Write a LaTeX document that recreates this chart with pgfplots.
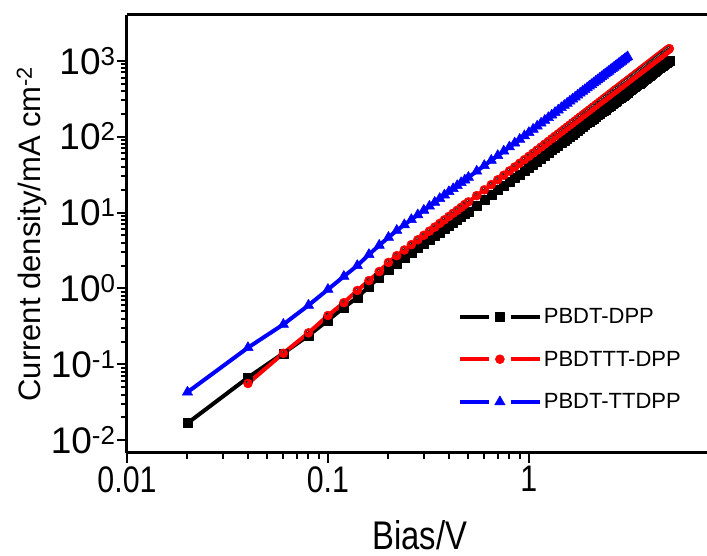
\documentclass[border=0pt]{standalone}
\usepackage{fontspec}
\setmainfont{Liberation Sans}
\usepackage{graphicx}
\usepackage{pgfplots}
\usepackage{pgfplotstable}
\pgfplotsset{compat=1.18}

% narrow the tick/axis label text a little, like the original export
\newcommand\sq[1]{\scalebox{0.82}[1]{#1}}

\pgfplotstableread{
V J
0.02 0.0168
0.04 0.067
0.06 0.14
0.08 0.24
0.10 0.38
0.12 0.56
0.14 0.76
0.16 1.06
0.18 1.40
0.20 1.78
0.22 2.13
0.24 2.52
0.26 2.94
0.28 3.39
0.30 3.86
0.32 4.37
0.34 4.91
0.36 5.48
0.38 6.08
0.40 6.71
0.42 7.37
0.44 8.06
0.46 8.78
0.48 9.53
0.50 10.3
0.55 12.4
0.60 14.6
0.65 17.1
0.70 19.7
0.75 22.4
0.80 25.4
0.85 28.5
0.90 31.8
0.95 35.3
1.00 39.0
1.05 43.0
1.10 47.3
1.15 51.7
1.20 56.4
1.25 61.2
1.30 66.2
1.35 71.5
1.40 76.9
1.45 82.6
1.50 88.5
1.55 94.5
1.60 100.8
1.65 107.3
1.70 113.9
1.75 120.8
1.80 127.9
1.85 135.1
1.90 142.6
1.95 150.3
2.00 158.1
2.05 166.3
2.10 174.5
2.15 183.1
2.20 191.7
2.25 200.7
2.30 209.7
2.35 219.1
2.40 228.6
2.45 238.3
2.50 248.2
2.55 258.4
2.60 268.8
2.65 279.3
2.70 290.0
2.75 301.0
2.80 312.1
2.85 323.5
2.90 335.0
2.95 346.8
3.00 358.6
3.05 371.0
3.10 383.3
3.15 396.0
3.20 408.6
3.25 421.7
3.30 434.9
3.35 448.4
3.40 461.9
3.45 475.8
3.50 489.8
3.55 504.1
3.60 518.4
3.65 533.2
3.70 548.0
3.75 563.1
3.80 578.3
3.85 593.8
3.90 609.5
3.95 625.4
4.00 641.5
4.05 657.8
4.10 674.4
4.15 691.0
4.20 707.8
4.25 725.2
4.30 742.5
4.35 760.0
4.40 778.0
4.45 795.7
4.50 813.9
4.55 832.2
4.60 851.1
4.65 869.6
4.70 888.5
4.75 907.8
4.80 926.9
4.85 946.8
4.90 966.5
4.95 986.8
5.00 1007
}\dpp

\pgfplotstableread{
V J
0.04 0.056
0.06 0.14
0.08 0.26
0.10 0.44
0.12 0.65
0.14 0.94
0.16 1.27
0.18 1.67
0.20 2.2
0.22 2.7
0.24 3.21
0.26 3.77
0.28 4.37
0.30 5.01
0.32 5.69
0.34 6.43
0.36 7.20
0.38 8.02
0.40 8.88
0.42 9.79
0.44 10.7
0.46 11.7
0.48 12.8
0.50 13.8
0.55 16.7
0.60 19.9
0.65 23.3
0.70 27.0
0.75 31.0
0.80 35.3
0.85 39.8
0.90 44.6
0.95 49.7
1.00 55.0
1.05 60.7
1.10 66.7
1.15 73.0
1.20 79.6
1.25 86.5
1.30 93.7
1.35 101.2
1.40 108.9
1.45 116.9
1.50 125.3
1.55 133.9
1.60 142.8
1.65 152.0
1.70 161.5
1.75 171.3
1.80 181.4
1.85 191.8
1.90 202.5
1.95 213.4
2.00 224.6
2.05 236.2
2.10 248.0
2.15 260.2
2.20 272.6
2.25 285.3
2.30 298.4
2.35 311.6
2.40 325.2
2.45 339.1
2.50 353.3
2.55 367.8
2.60 382.7
2.65 397.7
2.70 413.2
2.75 428.8
2.80 444.8
2.85 461.0
2.90 477.7
2.95 494.4
3.00 511.6
3.05 529.0
3.10 546.9
3.15 564.9
3.20 583.2
3.25 601.8
3.30 620.9
3.35 640.0
3.40 659.6
3.45 679.3
3.50 699.6
3.55 720.0
3.60 740.7
3.65 761.9
3.70 782.9
3.75 804.7
3.80 826.6
3.85 848.8
3.90 871.4
3.95 894.1
4.00 917.5
4.05 940.8
4.10 964.7
4.15 988.5
4.20 1013
4.25 1037
4.30 1063
4.35 1088
4.40 1114
4.45 1139
4.50 1165
4.55 1192
4.60 1219
4.65 1245
4.70 1273
4.75 1300
4.80 1328
4.85 1357
4.90 1385
4.95 1414
5.00 1443
}\tttdpp

\pgfplotstableread{
V J
0.02 0.043
0.04 0.166
0.06 0.336
0.08 0.60
0.10 0.97
0.12 1.44
0.14 2.0
0.16 2.8
0.18 3.7
0.20 4.7
0.22 5.8
0.24 6.89
0.26 8.06
0.28 9.32
0.30 10.7
0.32 12.1
0.34 13.6
0.36 15.3
0.38 17.0
0.40 18.8
0.42 20.6
0.44 22.6
0.46 24.7
0.48 26.8
0.50 29.0
0.55 35.0
0.60 41.5
0.65 48.6
0.70 56.2
0.75 64.3
0.80 73.0
0.85 82.2
0.90 91.9
0.95 102.2
1.00 113.0
1.05 124.8
1.10 137.1
1.15 150.1
1.20 163.7
1.25 177.8
1.30 192.5
1.35 207.8
1.40 223.7
1.45 240.3
1.50 257.4
1.55 275.1
1.60 293.4
1.65 312.4
1.70 331.7
1.75 352.0
1.80 372.7
1.85 394.0
1.90 415.9
1.95 438.3
2.00 461.5
2.05 485.2
2.10 509.6
2.15 534.6
2.20 560.1
2.25 586.2
2.30 613.1
2.35 640.2
2.40 668.4
2.45 696.7
2.50 725.6
2.55 755.7
2.60 786.5
2.65 817.1
2.70 849.0
2.75 880.9
2.80 914.1
2.85 947.2
2.90 981.3
2.95 1016
3.00 1051
3.05 1087
3.10 1123
}\ttdpp

\begin{document}
\begin{tikzpicture}
\begin{axis}[
  xmode=log, ymode=log,
  scale only axis, width=580pt, height=438pt,
  xmin=0.01, xmax=7.7, ymin=0.0068, ymax=4000,
  axis x line*=box, axis y line*=left,
  axis line style={line width=3pt,black},
  xtick pos=left, ytick pos=left,
  tick align=outside,
  major tick length=10pt, minor tick length=6pt,
  every tick/.style={line width=2pt,black},
  xtick={0.01,0.1,1}, xticklabels={\sq{0.01},\sq{0.1},\sq{1}},
  ytick={0.01,0.1,1,10,100,1000},
  yticklabels={10\textsuperscript{-2},10\textsuperscript{-1},10\textsuperscript{0},
    10\textsuperscript{1},10\textsuperscript{2},10\textsuperscript{3}},
  xticklabel style={font=\fontsize{37}{37}\selectfont},
  yticklabel style={font=\fontsize{37}{37}\selectfont, xshift=2pt},
  xlabel={\sq{Bias/V}},
  xlabel style={font=\fontsize{40}{40}\selectfont,
    at={(rel axis cs:0.505,0)}, anchor=base, yshift=-96pt},
  ylabel={Current density/mA cm\textsuperscript{-2}},
  ylabel style={font=\fontsize{31}{31}\selectfont,
    at={(rel axis cs:0,0.5)}, anchor=center, yshift=95pt},
  legend cell align=left,
  legend style={draw=none, fill=none, at={(0.565,0.34)}, anchor=north west,
    font=\fontsize{22}{22}\selectfont, row sep=22pt},
  legend image code/.code={
    \draw[#1,mark=none] (0pt,0pt) -- (29pt,0pt);
    \draw[#1,mark=none] (51pt,0pt) -- (80pt,0pt);
    \draw[#1,only marks] plot coordinates {(40pt,0pt)};},
  line join=round,
]
\addplot[black, line width=4pt, mark=square*,
  mark options={line width=0.5pt, fill=black}, mark size=4.5pt] table[x=V,y=J] {\dpp};
\addlegendentry{PBDT-DPP}
\addplot[red, line width=4pt, mark=*,
  mark options={line width=0.5pt, fill=red}, mark size=4.5pt] table[x=V,y=J] {\tttdpp};
\addlegendentry{PBDTTT-DPP}
% small highlight on the red balls
\addplot[forget plot, only marks, mark=*, mark size=1.1pt,
  mark options={draw=none, fill=red!25!white, xshift=-0.8pt, yshift=1.3pt}]
  table[x=V,y=J] {\tttdpp};
\addplot[blue, line width=4pt, mark=triangle*,
  mark options={line width=0.5pt, fill=blue}, mark size=6pt] table[x=V,y=J] {\ttdpp};
\addlegendentry{PBDT-TTDPP}
\coordinate (sw) at (rel axis cs:0,0);
\coordinate (ne) at (rel axis cs:1,1);
\end{axis}
\pgfresetboundingbox
\path[use as bounding box] ([xshift=-127pt,yshift=-103pt]sw) rectangle ([yshift=15pt]ne);
\end{tikzpicture}
\end{document}
